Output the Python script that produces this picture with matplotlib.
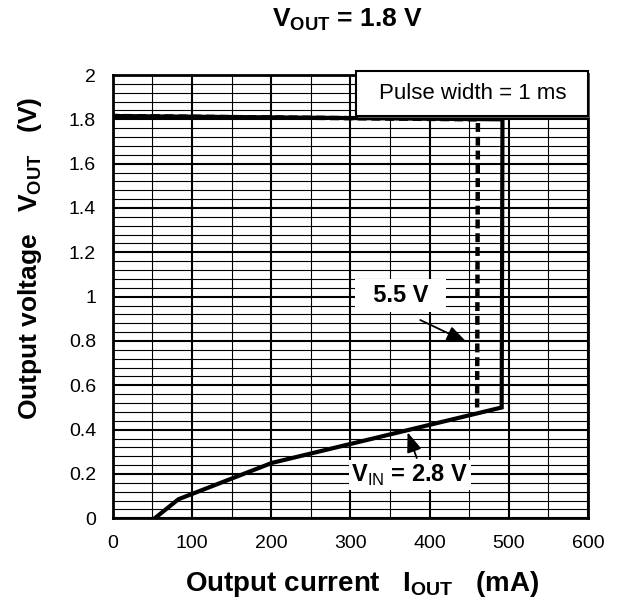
import matplotlib
matplotlib.use("Agg")
import matplotlib.pyplot as plt
from matplotlib.patches import Rectangle

plt.rcParams['font.family'] = ['Liberation Sans', 'DejaVu Sans']
plt.rcParams['mathtext.fontset'] = 'custom'
plt.rcParams['mathtext.rm'] = 'Liberation Sans'
plt.rcParams['mathtext.bf'] = 'Liberation Sans:bold'

# V_IN = 2.8 V curve (solid)
i_28 = [53, 83, 201, 491, 492, 0]
v_28 = [0.0, 0.086, 0.25, 0.50, 1.80, 1.815]

# V_IN = 5.5 V curve (dashed, only the part that differs)
i_55 = [460, 461, 0]
v_55 = [0.50, 1.80, 1.815]

x_ticks = [0, 100, 200, 300, 400, 500, 600]
y_ticks = [0, 0.2, 0.4, 0.6, 0.8, 1.0, 1.2, 1.4, 1.6, 1.8, 2.0]
y_labels = ["0", "0.2", "0.4", "0.6", "0.8", "1", "1.2", "1.4", "1.6", "1.8", "2"]

fig = plt.figure(figsize=(6.18, 6.01), dpi=100)
ax = fig.add_axes([0.1824, 0.1376, 0.7691, 0.7376])

ax.set_xlim(0, 600)
ax.set_ylim(0, 2)
ax.set_xticks(x_ticks)
ax.set_yticks(y_ticks)
ax.set_yticklabels(y_labels)
ax.set_xticks(range(0, 601, 50), minor=True)
ax.set_yticks([k * 0.04 for k in range(51)], minor=True)
ax.grid(which='minor', color='black', linewidth=0.8)
ax.grid(which='major', color='black', linewidth=1.5)
ax.tick_params(which='both', length=0, labelsize=14, pad=12, colors='black')
for s in ax.spines.values():
    s.set_linewidth(2)
    s.set_color('black')

ax.plot(i_28, v_28, color='black', linewidth=3.0, solid_joinstyle='miter', zorder=3)
ax.plot(i_55, v_55, color='black', linewidth=3.2, linestyle=(0, (2.0, 1.1)), zorder=3)

# annotations
ax.text(363.7, 1.005, "  5.5 V  ", fontsize=17, fontweight='bold', ha='center', va='center',
        bbox=dict(boxstyle='square,pad=0.2', facecolor='white', edgecolor='none'), zorder=4)
ax.annotate("", xy=(450, 0.79), xytext=(385, 0.90),
            arrowprops=dict(arrowstyle='-|>,head_length=1.2,head_width=0.45', color='black', lw=1.3),
            zorder=4)
ax.text(375, 0.195, r"V$_{\mathrm{IN}}$ = 2.8 V", fontsize=17, fontweight='bold', ha='center', va='center',
        bbox=dict(boxstyle='square,pad=0.1', facecolor='white', edgecolor='none'), zorder=4)
ax.annotate("", xy=(371, 0.40), xytext=(385, 0.26),
            arrowprops=dict(arrowstyle='-|>,head_length=1.2,head_width=0.45', color='black', lw=1.3),
            zorder=4)

# legend box
ax.add_patch(Rectangle((0.516, 0.903), 0.488, 0.102, transform=ax.transAxes,
                       facecolor='#555555', edgecolor='none', clip_on=False, zorder=5))
ax.add_patch(Rectangle((0.512, 0.908), 0.488, 0.1, transform=ax.transAxes,
                       facecolor='white', edgecolor='black', linewidth=1.5, clip_on=False, zorder=6))
ax.text(0.757, 0.958, "Pulse width = 1 ms", transform=ax.transAxes, fontsize=16,
        ha='center', va='center', zorder=7)

fig.text(0.5615, 0.967, r"$\mathbf{V_{OUT}}$ = 1.8 V", fontsize=19, fontweight='bold',
         ha='center', va='center')
fig.text(0.5865, 0.028, r"Output current   $\mathbf{I_{OUT}}$   (mA)", fontsize=20, fontweight='bold',
         ha='center', va='center')
fig.text(0.049, 0.571, r"Output voltage   $\mathbf{V_{OUT}}$   (V)", fontsize=19, fontweight='bold',
         ha='center', va='center', rotation=90)

fig.savefig("out.png", dpi=100, facecolor='white')
